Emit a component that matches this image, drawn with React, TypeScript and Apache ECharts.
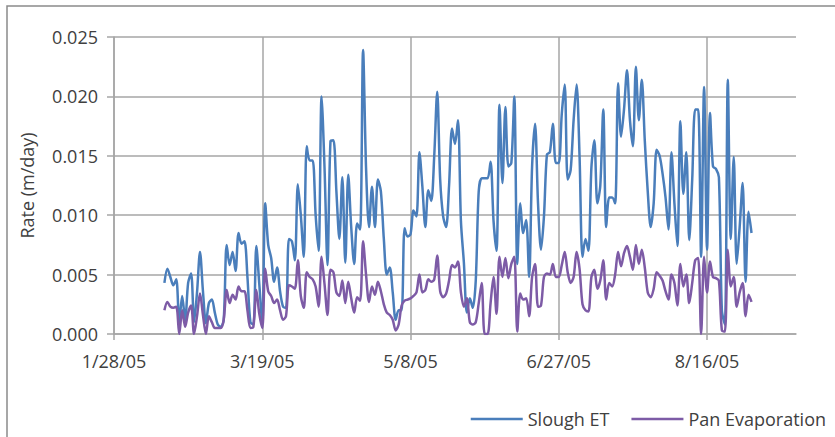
import React, { useEffect, useRef } from "react";
import * as echarts from "echarts";

// Daily series starting 2/14/05, values in mm/day (converted to m/day for plotting)
const startDate = "2005-02-14";
const axisStartDate = "2005-01-28";
const axisDays = 230;
const tickDays = 50;

const sloughET = [
  4.3, 5.5, 4.8, 4.1, 4.6, 1.0, 3.2, 1.1, 4.3, 5.1, 1.0, 3.5, 6.9, 3.6, 0.9, 2.6, 2.9, 1.8, 0.8, 0.6,
  1.2, 7.5, 5.8, 6.9, 5.3, 8.5, 7.6, 7.8, 4.8, 1.0, 0.8, 7.4, 4.2, 0.9, 11.0, 7.5, 6.4, 4.4, 5.6, 3.6,
  2.3, 2.2, 8.0, 7.8, 6.2, 12.6, 10.0, 6.5, 15.8, 14.6, 14.6, 10.0, 7.0, 20.0, 14.0, 5.8, 16.2, 16.3, 12.0, 8.0,
  13.2, 6.0, 13.4, 9.0, 5.9, 9.3, 8.8, 23.9, 14.0, 9.0, 12.4, 9.0, 13.0, 12.0, 8.0, 5.0, 5.6, 3.5, 1.2, 2.0,
  2.0, 8.9, 8.2, 8.4, 10.4, 9.9, 15.3, 12.4, 9.0, 12.1, 11.2, 15.0, 20.4, 13.0, 9.9, 9.0, 12.5, 17.3, 16.0, 18.0,
  9.5, 6.0, 1.8, 3.0, 2.2, 4.5, 12.0, 13.1, 13.1, 13.1, 14.5, 9.5, 7.0, 19.3, 12.7, 19.1, 14.1, 14.4, 20.0, 5.9,
  11.0, 8.5, 9.6, 4.8, 14.1, 17.7, 11.0, 7.1, 9.9, 15.1, 15.3, 17.7, 14.4, 14.4, 18.5, 21.0, 13.0, 13.8, 18.0, 21.0,
  15.0, 6.5, 8.0, 7.0, 14.0, 16.3, 11.0, 12.5, 18.9, 9.0, 11.5, 11.5, 11.0, 21.1, 16.6, 18.9, 22.2, 18.0, 15.8, 22.5,
  18.0, 21.4, 16.3, 12.0, 9.0, 11.0, 15.5, 15.0, 13.5, 11.5, 8.8, 15.3, 11.0, 7.4, 17.9, 11.8, 15.3, 7.9, 13.0, 18.9,
  18.9, 6.5, 20.8, 7.1, 18.6, 14.1, 13.9, 13.2, 2.0, 0.8, 21.4, 8.0, 14.9, 5.9, 9.0, 12.7, 4.4, 10.3, 8.5,
];

const panEvaporation = [
  2.0, 2.7, 2.3, 2.2, 2.3, 0.0, 2.0, 0.6, 1.8, 2.4, 0.0, 1.5, 3.4, 1.6, 0.0, 1.5, 1.0, 0.5, 0.5, 0.5,
  1.2, 3.7, 2.6, 3.3, 2.9, 4.0, 3.6, 3.6, 2.0, 0.5, 0.6, 3.7, 1.7, 0.5, 5.5, 3.6, 3.2, 2.6, 2.9, 2.0,
  1.2, 1.5, 4.1, 4.0, 3.8, 6.2, 3.2, 2.2, 5.2, 4.8, 4.6, 4.0, 2.3, 6.5, 4.2, 1.6, 5.4, 5.2, 3.5, 3.2,
  4.5, 2.6, 4.4, 3.0, 1.8, 3.1, 2.8, 7.8, 5.0, 2.7, 4.0, 3.3, 4.4, 3.6, 2.5, 1.8, 1.6, 1.2, 0.3, 0.8,
  2.4, 2.8, 2.9, 3.0, 3.2, 3.5, 5.0, 3.5, 3.7, 4.6, 4.4, 4.6, 6.6, 3.6, 3.1, 3.4, 4.5, 5.8, 5.6, 6.1,
  3.5, 2.3, 3.0, 1.0, 0.8, 1.0, 2.6, 4.3, 0.0, 0.0, 2.6, 4.8, 1.7, 6.5, 4.8, 6.4, 4.7, 5.9, 6.5, 0.2,
  3.4, 2.9, 3.0, 1.5, 4.8, 5.9, 2.3, 2.4, 4.8, 5.1, 5.0, 5.9, 4.8, 4.8, 5.8, 6.9, 5.2, 4.3, 4.8, 6.9,
  5.5, 2.5, 2.0, 1.9, 4.8, 5.4, 3.8, 4.5, 6.2, 2.9, 4.3, 4.0, 5.0, 6.9, 5.7, 6.8, 7.4, 6.5, 5.4, 7.5,
  5.9, 7.1, 5.6, 3.5, 3.1, 3.8, 5.2, 4.9, 4.5, 3.6, 2.9, 5.0, 4.3, 2.4, 5.9, 4.0, 5.0, 2.6, 4.3, 6.2,
  6.4, 0.0, 6.5, 3.5, 6.1, 4.8, 4.7, 4.5, 0.3, 0.2, 7.1, 4.0, 4.8, 2.3, 3.5, 4.3, 1.5, 3.3, 2.7,
];

const yTicks = [0, 0.005, 0.01, 0.015, 0.02, 0.025];

const DAY = 86400000;
const axisStart = Date.parse(axisStartDate + "T00:00:00Z");
const seriesStart = Date.parse(startDate + "T00:00:00Z");
const offset = Math.round((seriesStart - axisStart) / DAY);

const fmtDate = (d: number) => {
  const dt = new Date(axisStart + d * DAY);
  const yy = String(dt.getUTCFullYear() % 100).padStart(2, "0");
  return `${dt.getUTCMonth() + 1}/${dt.getUTCDate()}/${yy}`;
};

const FONT = "Open Sans";
const TXT = "#404040";
const GRIDC = "#a6a6a6";

export default function App() {
  const ref = useRef<HTMLDivElement>(null);
  useEffect(() => {
    if (!ref.current) return;
    const chart = echarts.init(ref.current, undefined, { renderer: "svg" });
    const toPts = (arr: number[]) => arr.map((v, i) => [offset + i, v / 1000]);
    chart.setOption({
      animation: false,
      backgroundColor: "#ffffff",
      textStyle: { fontFamily: FONT },
      graphic: [
        {
          type: "rect",
          shape: { x: 7, y: 6, width: 860, height: 460 },
          style: { fill: "none", stroke: "#8a8a8a", lineWidth: 1.5 },
          silent: true,
        },
      ],
      grid: { left: 114, top: 37, right: 39, bottom: 103, containLabel: false },
      legend: {
        right: 4,
        top: 405,
        icon: "rect",
        itemWidth: 52,
        itemHeight: 2.5,
        itemGap: 22,
        textStyle: { fontFamily: FONT, fontSize: 18, color: TXT },
        data: ["Slough ET", "Pan Evaporation"],
      },
      xAxis: {
        type: "value",
        min: 0,
        max: axisDays,
        interval: tickDays,
        axisLine: { show: true, lineStyle: { color: GRIDC, width: 1.5 } },
        axisTick: { show: true, length: 6, lineStyle: { color: GRIDC, width: 1.5 } },
        splitLine: { show: true, showMaxLine: false, lineStyle: { color: GRIDC, width: 1.5 } },
        axisLabel: {
          showMaxLabel: false,
          margin: 18,
          fontFamily: FONT,
          fontSize: 18,
          color: TXT,
          formatter: (v: number) => fmtDate(v),
        },
      },
      yAxis: {
        type: "value",
        min: yTicks[0],
        max: yTicks[yTicks.length - 1],
        interval: 0.005,
        name: "Rate (m/day)",
        nameLocation: "middle",
        nameGap: 78,
        nameTextStyle: { fontFamily: FONT, fontSize: 18, color: TXT },
        axisLine: { show: true, lineStyle: { color: GRIDC, width: 1.5 } },
        axisTick: { show: true, length: 7, lineStyle: { color: GRIDC, width: 1.5 } },
        splitLine: { show: true, lineStyle: { color: GRIDC, width: 1.5 } },
        axisLabel: {
          margin: 16,
          fontFamily: FONT,
          fontSize: 18,
          color: TXT,
          formatter: (v: number) => v.toFixed(3),
        },
      },
      series: [
        {
          name: "Slough ET",
          type: "line",
          data: toPts(sloughET),
          showSymbol: false,
          symbol: "none",
          smooth: 0.3,
          lineStyle: { color: "#4a7ebb", width: 2.5 },
          itemStyle: { color: "#4a7ebb" },
        },
        {
          name: "Pan Evaporation",
          type: "line",
          data: toPts(panEvaporation),
          showSymbol: false,
          symbol: "none",
          smooth: 0.3,
          lineStyle: { color: "#7d5ba6", width: 2.5 },
          itemStyle: { color: "#7d5ba6" },
        },
      ],
    });
    return () => chart.dispose();
  }, []);
  return (
    <div
      ref={ref}
      style={{ position: "fixed", left: 0, top: 0, width: 835, height: 437 }}
    />
  );
}
